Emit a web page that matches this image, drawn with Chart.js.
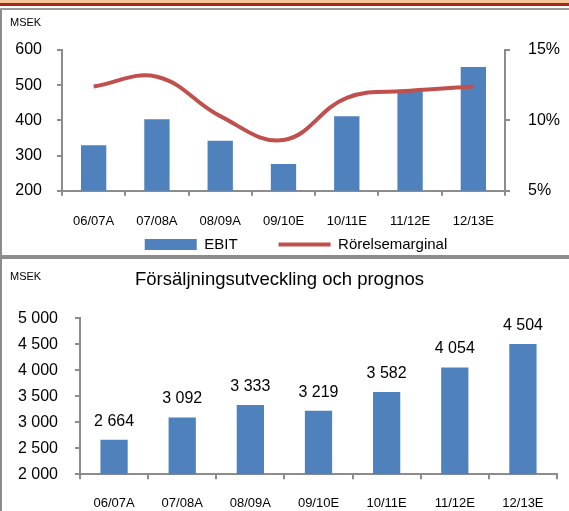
<!DOCTYPE html>
<html lang="sv">
<head>
<meta charset="utf-8">
<title>EBIT och försäljning</title>
<script src="https://cdn.jsdelivr.net/npm/chart.js@4.4.1/dist/chart.umd.min.js"></script>
<style>
  html, body { margin: 0; padding: 0; background: #fff; }
  body { width: 569px; height: 511px; position: relative; overflow: hidden;
         font-family: 'Liberation Sans', Arial, sans-serif; }
  .band-top  { position: absolute; left: 0; top: 0; width: 569px; height: 4px; background: #F8C89C; }
  .band-red  { position: absolute; left: 0; top: 3px; width: 569px; height: 3px; background: #A52A1C; }
  .band-grey { position: absolute; left: 0; top: 8px; width: 569px; height: 2px; background: #9A9A9A; }
  .border-left { position: absolute; left: 0; width: 2px; background: #8C8C8C; }
  .split { position: absolute; left: 0; top: 255px; width: 569px; height: 4px; background: #8C8C8C; z-index: 2; }
  .unit { position: absolute; left: 10px; font-size: 11px; color: #000; }
  canvas { position: absolute; left: 2px; }
  #chart-ebit { top: 10px; }
  #chart-sales { top: 259px; }
</style>
</head>
<body>
<div class="band-top"></div>
<div class="band-red"></div>
<div class="band-grey"></div>
<div class="border-left" style="top:10px;height:245px"></div>
<div class="border-left" style="top:259px;height:252px"></div>
<div class="split"></div>

<canvas id="chart-ebit" width="567" height="252"></canvas>
<canvas id="chart-sales" width="567" height="252"></canvas>
<div class="unit" style="top:16px">MSEK</div>
<div class="unit" style="top:270px">MSEK</div>

<script>
// ── Data ───────────────────────────────────────────────────
const YEARS     = ['06/07A', '07/08A', '08/09A', '09/10E', '10/11E', '11/12E', '12/13E'];
const EBIT      = [329, 403, 342, 276, 412, 483, 552];
const MARGIN    = [12.4, 13.1, 10.3, 8.6, 11.6, 12.1, 12.4];   // %
const SALES     = [2664, 3092, 3333, 3219, 3582, 4054, 4504];
const EBIT_TICKS   = { min: 200, max: 600, step: 100 };
const MARGIN_TICKS = { min: 5, max: 15, step: 5 };
const SALES_TICKS  = { min: 2000, max: 5000, step: 500 };

// ── Helpers ────────────────────────────────────────────────
const FONT  = "'Liberation Sans', Arial, sans-serif";
const BLUE  = '#4F81BD';
const RED   = '#C0504D';
const AXIS  = '#8C8C8C';

const fmt = v => String(Math.round(v)).replace(/\B(?=(\d{3})+(?!\d))/g, ' ');

const fixWidth  = w => scale => { scale.width = w; };
const fixHeight = h => scale => { scale.height = h; };

// legend: wide gap between items but kept in a short box under the x axis
const legendShift = {
  id: 'legendShift',
  afterLayout(chart) {
    const lg = chart.legend;
    if (!lg) return;
    const o = lg.options.labels;
    lg.left += 21;
    lg.top = lg.bottom - (o.font.size + o.padding + 10);
  },
};

// value labels above bars (bottom chart)
const barValues = {
  id: 'barValues',
  afterDatasetsDraw(chart) {
    const { ctx } = chart;
    const meta = chart.getDatasetMeta(0);
    ctx.save();
    ctx.font = `16px ${FONT}`;
    ctx.fillStyle = '#000';
    ctx.textAlign = 'center';
    ctx.textBaseline = 'alphabetic';
    meta.data.forEach((bar, i) => {
      ctx.fillText(fmt(chart.data.datasets[0].data[i]), bar.x, bar.y - 14);
    });
    ctx.restore();
  },
};

// ── Chart 1: EBIT + Rörelsemarginal ────────────────────────
new Chart(document.getElementById('chart-ebit'), {
  type: 'bar',
  data: {
    labels: YEARS,
    datasets: [
      {
        type: 'line',
        label: 'Rörelsemarginal',
        data: MARGIN,
        yAxisID: 'y1',
        borderColor: RED,
        backgroundColor: RED,
        borderWidth: 4,
        tension: 0.4,
        pointRadius: 0,
        pointStyle: 'line',
        order: 0,
      },
      {
        type: 'bar',
        label: 'EBIT',
        data: EBIT,
        yAxisID: 'y',
        backgroundColor: BLUE,
        borderWidth: 0,
        barPercentage: 0.4,
        categoryPercentage: 1,
        pointStyle: 'rect',
        order: 1,
      },
    ],
  },
  options: {
    responsive: false,
    animation: false,
    layout: { padding: { left: 0, top: 40, right: 0, bottom: 0 } },
    plugins: {
      legend: {
        position: 'bottom',
        reverse: true,
        maxHeight: 32.3,
        labels: {
          usePointStyle: true,
          pointStyleWidth: 52,
          boxHeight: 11,
          padding: 41,
          color: '#000',
          font: { family: FONT, size: 15 },
        },
      },
      tooltip: { enabled: false },
    },
    scales: {
      x: {
        offset: true,
        grid: { offset: true, drawOnChartArea: false, drawTicks: true, tickLength: 5, color: AXIS, lineWidth: 2 },
        border: { color: AXIS, width: 2 },
        ticks: { color: '#000', padding: 18, font: { family: FONT, size: 13 } },
        afterFit: fixHeight(39),
      },
      y: {
        position: 'left',
        min: EBIT_TICKS.min, max: EBIT_TICKS.max,
        grid: { drawOnChartArea: false, tickLength: 5, color: AXIS, lineWidth: 2 },
        border: { color: AXIS, width: 2 },
        ticks: { stepSize: EBIT_TICKS.step, color: '#000', padding: 15, font: { family: FONT, size: 16 } },
        afterFit: fixWidth(60),
      },
      y1: {
        position: 'right',
        min: MARGIN_TICKS.min, max: MARGIN_TICKS.max,
        grid: { drawOnChartArea: false, tickLength: 5, color: AXIS, lineWidth: 2 },
        border: { color: AXIS, width: 2 },
        ticks: {
          stepSize: MARGIN_TICKS.step, color: '#000', padding: 18,
          font: { family: FONT, size: 16 },
          callback: v => v + '%',
        },
        afterFit: fixWidth(64),
      },
    },
  },
  plugins: [legendShift],
});

// ── Chart 2: Försäljning ───────────────────────────────────
new Chart(document.getElementById('chart-sales'), {
  type: 'bar',
  data: {
    labels: YEARS,
    datasets: [{
      label: 'Försäljning',
      data: SALES,
      backgroundColor: BLUE,
      borderWidth: 0,
      barPercentage: 0.4,
      categoryPercentage: 1,
    }],
  },
  options: {
    responsive: false,
    animation: false,
    layout: { padding: { left: 0, top: 0, right: 12, bottom: 0 } },
    plugins: {
      legend: { display: false },
      tooltip: { enabled: false },
      title: {
        display: true,
        text: 'Försäljningsutveckling och prognos',
        color: '#000',
        font: { family: FONT, size: 18.5, weight: 'normal' },
        padding: { top: 10, bottom: 27 },
      },
    },
    scales: {
      x: {
        grid: { offset: true, drawOnChartArea: false, tickLength: 5, color: AXIS, lineWidth: 2 },
        border: { color: AXIS, width: 2 },
        ticks: { color: '#000', padding: 16, font: { family: FONT, size: 13 } },
        afterFit: fixHeight(36.7),
      },
      y: {
        min: SALES_TICKS.min, max: SALES_TICKS.max,
        grid: { drawOnChartArea: false, tickLength: 5, color: AXIS, lineWidth: 2 },
        border: { color: AXIS, width: 2 },
        ticks: {
          stepSize: SALES_TICKS.step, color: '#000', padding: 17,
          font: { family: FONT, size: 16 },
          callback: v => fmt(v),
        },
        afterFit: fixWidth(78),
      },
    },
  },
  plugins: [barValues],
});
</script>
</body>
</html>
